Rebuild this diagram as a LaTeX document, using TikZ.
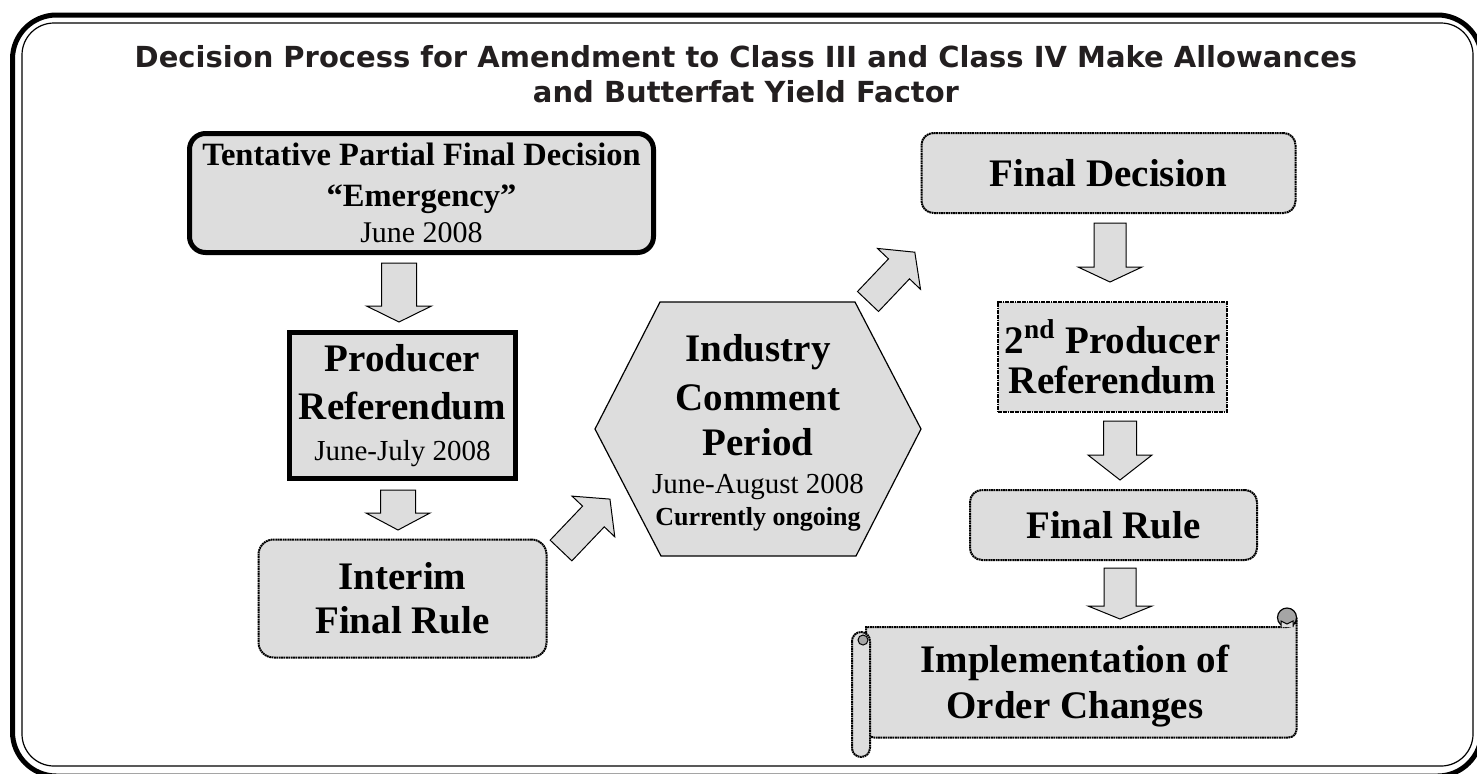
\documentclass[tikz,border=0pt]{standalone}
\usepackage{fontspec}
\setmainfont{Liberation Serif}
\newfontfamily\titlefont{DejaVu Sans}
\definecolor{boxgray}{RGB}{221,221,221}
\definecolor{curlgray}{RGB}{165,165,165}
\definecolor{titleink}{RGB}{35,31,32}
\tikzset{
  thickbox/.style={draw=black, line width=2.5pt, fill=boxgray, inner sep=0pt, align=center},
  dotbox/.style={draw=black, line width=1pt, dash pattern=on 0.9pt off 0.3pt, fill=boxgray, inner sep=0pt, align=center},
  blockarrow/.style={draw=black, line width=0.5pt, fill=boxgray, line join=miter},
  hexbox/.style={draw=black, line width=0.6pt, fill=boxgray},
  titletext/.style={font=\titlefont\bfseries\fontsize{14.5}{17}\selectfont, text=titleink, inner sep=0pt, anchor=base},
  bigtext/.style={font=\fontsize{19.5}{#1}\selectfont\bfseries},
}
\newcommand\vblock[6]{%
  \draw[blockarrow] (#1-#5,#2) -- (#1+#5,#2) -- (#1+#5,#3) -- (#1+#6,#3) -- (#1,#4) -- (#1-#6,#3) -- (#1-#5,#3) -- cycle;}
\newcommand\dblock[7]{%
  \begin{scope}[shift={(#1,#2)}, rotate=#3]
    \draw[blockarrow] (0,-#6) -- (#4-#5,-#6) -- (#4-#5,-#7) -- (#4,0) -- (#4-#5,#7) -- (#4-#5,#6) -- (0,#6) -- cycle;
  \end{scope}}
\begin{document}
\begin{tikzpicture}[x=0.5pt,y=-0.5pt]
\useasboundingbox (0,0) rectangle (1477,773);
% frame
\begin{scope}
  \clip (0,0) rectangle (1477,773);
  \draw[line width=2.5pt, rounded corners=22pt] (12.5,15) rectangle (1481.5,776);
  \draw[line width=0.6pt, rounded corners=16pt] (22,23) rectangle (1473,766);
\end{scope}
% title
\node[titletext] (t1) at (746,67) {Decision Process for Amendment to Class III and Class IV Make Allowances};
\node[titletext] (t2) at (746,102) {and Butterfat Yield Factor};
% left column
\node[thickbox, rounded corners=8pt, minimum width=232pt, minimum height=59.5pt,
      font=\fontsize{16.25}{18}\selectfont\bfseries] (tpfd) at (421.5,193)
  {Tentative Partial Final Decision\\[2.5pt]“Emergency”\\{\mdseries\fontsize{15}{18}\selectfont June 2008}};
\vblock{399}{263}{306}{322}{17.5}{32.5}
\node[thickbox, minimum width=113pt, minimum height=73pt, bigtext=19] (prod) at (402.5,405.5)
  {Producer\\[5pt]Referendum\\[1.5pt]{\mdseries\fontsize{14.5}{19}\selectfont June-July 2008}};
\vblock{398}{490}{513}{530}{17.5}{32}
\node[dotbox, rounded corners=7.5pt, minimum width=144pt, minimum height=59pt, bigtext=22] (interim) at (402.5,598.5)
  {Interim\\Final Rule};
% diagonal arrow to hexagon
\dblock{561}{550.5}{46.4}{71}{24}{15}{29.5}
% hexagon
\draw[hexbox] (595,429) -- (660,302) -- (855,302) -- (921,429) -- (856,556) -- (661,556) -- cycle;
\node[align=center, inner sep=0pt, bigtext=16] (hex) at (758,433)
  {Industry\\[6.5pt]Comment\\[6.5pt]Period\\[3pt]{\mdseries\fontsize{14.5}{16}\selectfont June-August 2008}\\{\fontsize{13}{16}\selectfont Currently ongoing}};
% diagonal arrow to final decision
\dblock{868}{301.5}{46.5}{68}{23}{14.5}{29.7}
% right column
\node[dotbox, rounded corners=6pt, minimum width=187pt, minimum height=40pt, bigtext=22] (fd) at (1108.5,173) {Final Decision};
\vblock{1110}{223}{267}{282}{16}{32}
\node[dotbox, minimum width=114.5pt, minimum height=55pt, bigtext=20] (p2) at (1112.5,357)
  {2\textsuperscript{nd} Producer\\Referendum};
\vblock{1120}{421}{455}{480}{16.5}{32}
\node[dotbox, rounded corners=6pt, minimum width=143.5pt, minimum height=35pt, bigtext=22] (fr) at (1113.5,525) {Final Rule};
\vblock{1120}{568}{606}{619}{16}{32}
% scroll
\draw[dotbox] (870,627) -- (1287,627) arc[start angle=90, end angle=0, radius=9.5]
  [rounded corners=4pt] -- (1296.5,737.5) -- (866,737.5) [sharp corners] -- (866,627) -- cycle;
\draw[line width=0.6pt, fill=curlgray] (1287,617.5) circle[radius=9.5];
\draw[line width=0.5pt, fill=boxgray] (1281,627) -- (1281,621) -- (1287,624) -- (1293,621) -- (1293,627);
\draw[dotbox, rounded corners=4.5pt] (852,632) rectangle (870,757);
\draw[line width=0.5pt, fill=curlgray] (863,640) circle[radius=5];
\node[align=center, inner sep=0pt, bigtext=23] (impl) at (1075,686) {Implementation of\\Order Changes};
\end{tikzpicture}
\end{document}
